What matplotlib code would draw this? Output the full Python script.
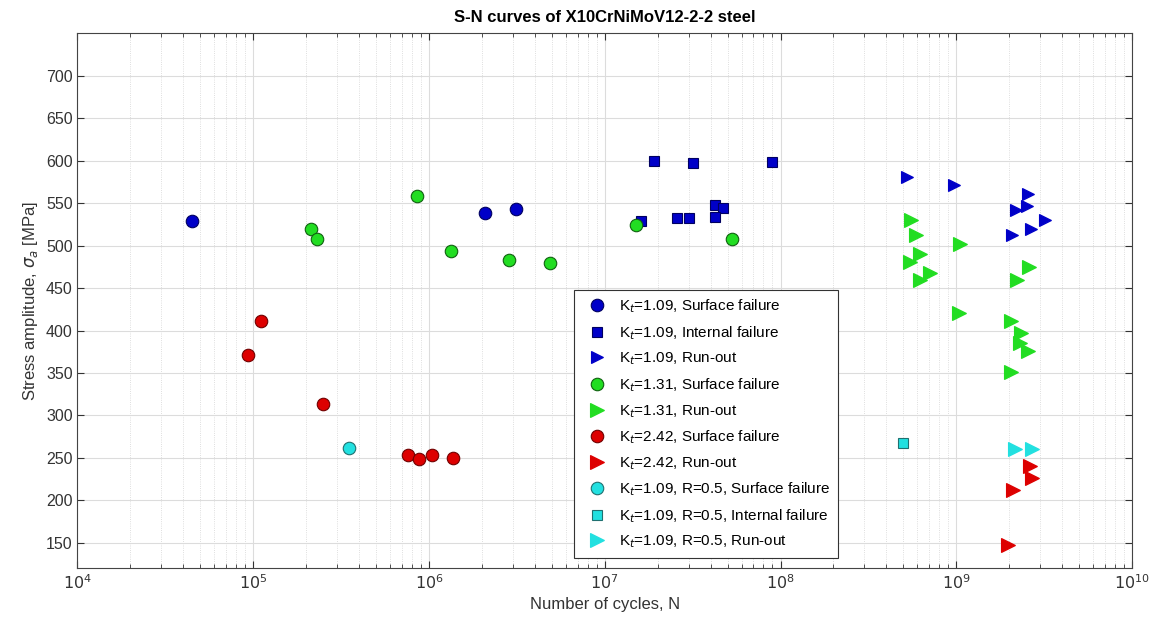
import numpy as np
import matplotlib.pyplot as plt
from matplotlib.ticker import LogLocator, NullFormatter

plt.rcParams['font.family'] = ['Liberation Sans', 'DejaVu Sans']

# Kt=1.09
kt109_surf_N = [4.47e4, 2.08e6, 3.12e6]
kt109_surf_S = [529, 538, 543]
kt109_int_N = [1.91e7, 3.18e7, 8.89e7, 1.60e7, 2.58e7, 3.01e7, 4.23e7, 4.72e7, 4.26e7]
kt109_int_S = [600, 597, 599, 529, 533, 532, 548, 544, 534]
kt109_run_N = [5.25e8, 9.77e8, 2.56e9, 2.51e9, 2.18e9, 3.18e9, 2.65e9, 2.08e9]
kt109_run_S = [581, 571, 561, 547, 542, 530, 519, 512]

# Kt=1.31
kt131_surf_N = [2.12e5, 2.32e5, 8.5e5, 1.33e6, 2.85e6, 4.87e6, 1.50e7, 5.33e7]
kt131_surf_S = [520, 508, 558, 494, 483, 480, 524, 508]
kt131_run_N = [5.56e8, 5.89e8, 1.05e9, 6.25e8, 5.43e8, 7.06e8, 6.19e8, 2.59e9,
               2.22e9, 1.04e9, 2.06e9, 2.35e9, 2.29e9, 2.56e9, 2.04e9]
kt131_run_S = [530, 512, 502, 490, 481, 468, 460, 475,
               460, 421, 411, 397, 385, 376, 351]

# Kt=2.42
kt242_surf_N = [1.10e5, 9.29e4, 2.51e5, 7.62e5, 8.77e5, 1.04e6, 1.37e6]
kt242_surf_S = [411, 371, 314, 254, 249, 253, 250]
kt242_run_N = [2.62e9, 2.68e9, 2.10e9, 1.97e9]
kt242_run_S = [240, 226, 212, 148]

# Kt=1.09, R=0.5
r05_surf_N = [3.51e5]
r05_surf_S = [262]
r05_int_N = [4.98e8]
r05_int_S = [267]
r05_run_N = [2.17e9, 2.68e9]
r05_run_S = [260, 260]

x_ticks = [1e4, 1e5, 1e6, 1e7, 1e8, 1e9, 1e10]
x_tick_labels = [r'$10^{4}$', r'$10^{5}$', r'$10^{6}$', r'$10^{7}$',
                 r'$10^{8}$', r'$10^{9}$', r'$10^{10}$']

blue = '#0000C8'
green = '#22DD22'
red = '#DD0000'
cyan = '#22E0E0'

fig = plt.figure(figsize=(11.53, 6.28), dpi=100)
ax = fig.add_axes([0.0672, 0.095, 0.9146, 0.852])

series = [
    (kt109_surf_N, kt109_surf_S, 'o', blue, '#000060', 9, r'K$_t$=1.09, Surface failure'),
    (kt109_int_N, kt109_int_S, 's', blue, '#000060', 7, r'K$_t$=1.09, Internal failure'),
    (kt109_run_N, kt109_run_S, '>', blue, blue, 9, r'K$_t$=1.09, Run-out'),
    (kt131_surf_N, kt131_surf_S, 'o', green, '#106010', 9, r'K$_t$=1.31, Surface failure'),
    (kt131_run_N, kt131_run_S, '>', green, green, 10, r'K$_t$=1.31, Run-out'),
    (kt242_surf_N, kt242_surf_S, 'o', red, '#700000', 9, r'K$_t$=2.42, Surface failure'),
    (kt242_run_N, kt242_run_S, '>', red, red, 10, r'K$_t$=2.42, Run-out'),
    (r05_surf_N, r05_surf_S, 'o', cyan, '#207070', 9, r'K$_t$=1.09, R=0.5, Surface failure'),
    (r05_int_N, r05_int_S, 's', cyan, '#207070', 7, r'K$_t$=1.09, R=0.5, Internal failure'),
    (r05_run_N, r05_run_S, '>', cyan, cyan, 10, r'K$_t$=1.09, R=0.5, Run-out'),
]
for n, s, m, fc, ec, ms, lab in series:
    ax.plot(n, s, linestyle='none', marker=m, markersize=ms, markerfacecolor=fc,
            markeredgecolor=ec, markeredgewidth=0.8, label=lab)

ax.set_xscale('log')
ax.set_xlim(1e4, 1e10)
ax.set_ylim(120, 750)
ax.set_yticks(np.arange(150, 701, 50))
ax.set_xticks(x_ticks)
ax.set_xticklabels(x_tick_labels)
ax.xaxis.set_minor_locator(LogLocator(base=10, subs=np.arange(2, 10), numticks=100))
ax.xaxis.set_minor_formatter(NullFormatter())

ax.grid(True, which='major', color='#dcdcdc', linewidth=0.8)
ax.grid(True, which='minor', axis='x', color='#d4d4d4', linewidth=0.6, linestyle=':')
ax.set_axisbelow(True)
ax.tick_params(which='both', direction='in', top=True, right=True, labelsize=11.5, colors='#333333')
ax.tick_params(which='major', length=5)
ax.tick_params(which='minor', length=3)
for sp in ax.spines.values():
    sp.set_color('#444444')

ax.set_title('S-N curves of X10CrNiMoV12-2-2 steel', fontsize=12, fontweight='bold', pad=8)
ax.set_xlabel('Number of cycles, N', fontsize=12, color='#333333')
ax.set_ylabel(r'Stress amplitude, $\sigma_a$ [MPa]', fontsize=12, color='#333333')

leg = ax.legend(loc='lower left', bbox_to_anchor=(0.464, 0.005), fontsize=11,
                frameon=True, fancybox=False, edgecolor='#333333', framealpha=1,
                handletextpad=0.4, labelspacing=0.58, borderpad=0.5)
leg.get_frame().set_linewidth(0.8)

fig.savefig('out.png', dpi=100)
